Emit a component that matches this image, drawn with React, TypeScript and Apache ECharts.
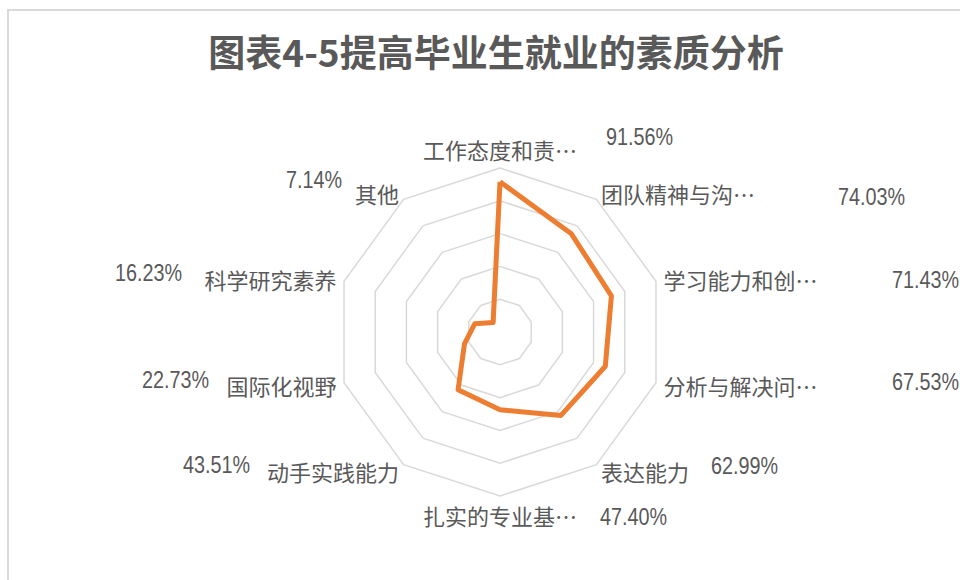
import React, { useEffect, useRef } from "react";
import * as echarts from "echarts";

const TITLE = "图表4-5提高毕业生就业的素质分析";
const categories = [
  "工作态度和责任心",
  "团队精神与沟通能力",
  "学习能力和创新能力",
  "分析与解决问题能力",
  "表达能力",
  "扎实的专业基础知识",
  "动手实践能力",
  "国际化视野",
  "科学研究素养",
  "其他",
];
const values = [91.56, 74.03, 71.43, 67.53, 62.99, 47.4, 43.51, 22.73, 16.23, 7.14];

// layout only: left x, middle y of each value label (moved labels as in the reference)
const valueLabelPos: [number, number][] = [
  [606, 137],
  [838, 197],
  [892, 280],
  [892, 382],
  [711, 466],
  [600, 517],
  [183, 465],
  [142, 380],
  [115, 273],
  [286, 180],
];

const CJK = '"Noto Sans CJK SC", "Noto Sans", sans-serif';
const LATIN = '"Liberation Sans", Arial, sans-serif';

export default function App() {
  const ref = useRef<HTMLDivElement>(null);
  useEffect(() => {
    if (!ref.current) return;
    const chart = echarts.init(ref.current, undefined, { renderer: "svg" });
    // ECharts radar runs counter-clockwise; reverse (keeping first on top) to run clockwise
    const order = [0, ...categories.map((_, i) => i).slice(1).reverse()];
    const indicator = order.map((i) => ({ name: categories[i], min: 0, max: 100 }));
    const data = order.map((i) => values[i]);

    chart.setOption({
      animation: false,
      backgroundColor: "#ffffff",
      title: {
        text: TITLE,
        left: 491,
        top: 27,
        textAlign: "center",
        textStyle: { fontFamily: CJK, fontSize: 37, fontWeight: "bold", color: "#595959" },
      },
      radar: {
        center: [500, 332],
        radius: 164,
        startAngle: 90,
        splitNumber: 5,
        shape: "polygon",
        nameGap: 8,
        axisName: {
          color: "#595959",
          fontSize: 22,
          fontFamily: CJK,
          formatter: (name: string) => (name.length > 6 ? name.slice(0, 6) + "…" : name),
        },
        axisLine: { show: false },
        axisTick: { show: false },
        axisLabel: { show: false },
        splitArea: { show: false },
        splitLine: { lineStyle: { color: "#D9D9D9", width: 1.5 } },
        indicator,
      },
      series: [
        {
          type: "radar",
          symbol: "none",
          lineStyle: { color: "#ED7D31", width: 5, join: "round" },
          itemStyle: { color: "#ED7D31" },
          data: [{ value: data, name: "比例" }],
        },
      ],
      graphic: [
        {
          type: "rect",
          shape: { x: 8, y: 10, width: 1000, height: 620 },
          style: { fill: "none", stroke: "#D9D9D9", lineWidth: 2 },
          silent: true,
        },
        ...values.map((v, i) => ({
          type: "text",
          x: valueLabelPos[i][0],
          y: valueLabelPos[i][1],
          scaleX: 0.86,
          style: {
            text: v.toFixed(2) + "%",
            fill: "#595959",
            font: `23px ${LATIN}`,
            textAlign: "left",
            textVerticalAlign: "middle",
          },
        })),
      ],
    });
    return () => chart.dispose();
  }, []);
  return (
    <div
      ref={ref}
      style={{ position: "fixed", left: 0, top: 0, width: 960, height: 580 }}
    />
  );
}
